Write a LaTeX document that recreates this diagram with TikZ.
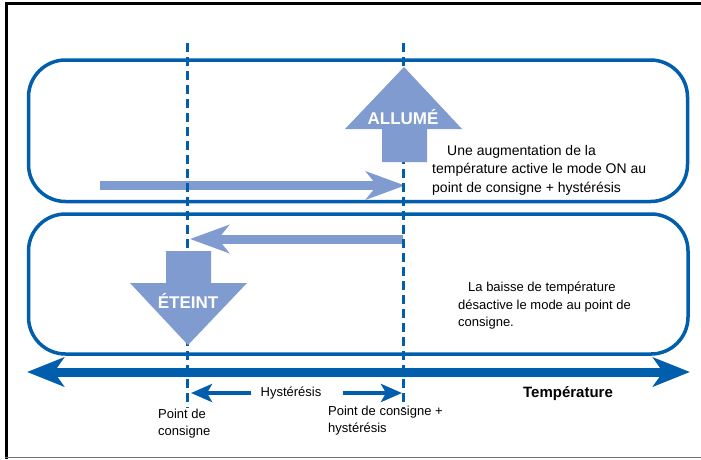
\documentclass[tikz,border=0pt]{standalone}
\usepackage{fontspec}
\setmainfont{Liberation Sans}
\usetikzlibrary{arrows.meta}
\definecolor{lineblue}{RGB}{0,94,172}
\definecolor{softblue}{RGB}{128,155,208}
\tikzset{
  modebox/.style={draw=lineblue, line width=3.5pt, rounded corners=37pt, inner sep=0pt},
  limit/.style={draw=lineblue, line width=3.3pt, dash pattern=on 9pt off 5pt},
  axis/.style={draw=lineblue, line width=9pt,
    {Stealth[length=37pt,width=29pt,inset=10pt]}-{Stealth[length=37pt,width=29pt,inset=10pt]}},
  span/.style={draw=lineblue, line width=4pt, -{Stealth[length=21pt,width=18pt,inset=5pt]}},
  sweep/.style={draw=softblue, line width=9pt, -{Stealth[length=39pt,width=28pt,inset=11pt]}},
  bigarrow/.style={fill=softblue, draw=none},
  statelabel/.style={text=white, font=\fontsize{17}{20}\selectfont\bfseries, inner sep=0pt},
  note/.style={font=\fontsize{14}{18.5}\selectfont, align=left, inner sep=0pt, anchor=west},
  lownote/.style={font=\fontsize{13}{17.5}\selectfont, align=left, inner sep=0pt, anchor=west},
  tick/.style={font=\fontsize{13}{16.5}\selectfont, align=left, inner sep=0pt}
}
\begin{document}
\begin{tikzpicture}[x=1pt,y=-1pt]
\useasboundingbox (0,0) rectangle (701,459);
% page frame
\draw[black, line width=3pt] (6,459) -- (6,3.5) -- (701,3.5);
\draw[black!55, line width=1pt] (5,457.5) -- (701,457.5);

% mode boxes
\node[modebox, minimum width=659pt, minimum height=141.5pt] (onbox) at (358,130.75) {};
\node[modebox, minimum width=659.5pt, minimum height=140pt] (offbox) at (358.25,284) {};

% temperature axis
\coordinate (axL) at (27,372);
\coordinate (axR) at (690,372);
\draw[axis] (axL) -- (axR);

% transitions along the temperature
\coordinate (upStart) at (100,185.5);
\coordinate (upEnd) at (405,185.5);
\coordinate (downStart) at (403,239);
\coordinate (downEnd) at (190,239);
\draw[sweep] (upStart) -- (upEnd);
\draw[sweep] (downStart) -- (downEnd);

% set point and set point + hysteresis
\coordinate (spTop) at (187.5,43);
\coordinate (spBot) at (187.5,408);
\coordinate (shTop) at (403.5,43);
\coordinate (shBot) at (403.5,408);
\draw[limit] (spTop) -- (spBot);
\draw[limit] (shTop) -- (shBot);

% ON arrow
\draw[bigarrow] (404,67) -- (462,129) -- (427,129) -- (427,162) -- (382,162) -- (382,129) -- (345,129) -- cycle;
\node[statelabel] (on) at (403,117) {ALLUMÉ};
% OFF arrow
\draw[bigarrow] (166,251) -- (211,251) -- (211,283) -- (247,283) -- (188,345) -- (130,283) -- (166,283) -- cycle;
\node[statelabel] (off) at (188,301) {ÉTEINT};

% explanations
\node[note] (onnote) at (432,170) {\hspace*{15pt}Une augmentation de la\\température active le mode ON au\\point de consigne + hystérésis};
\node[lownote] (offnote) at (458,306) {\hspace*{10pt}La baisse de température\\désactive le mode au point de\\consigne.};

% hysteresis span
\node[tick] (hyst) at (291,393) {Hystérésis};
\coordinate (hystL) at (191,393);
\coordinate (hystR) at (402,393);
\draw[span] (hyst.west) ++(-9,0) -- (hystL);
\draw[span] (hyst.east) ++(21,0) -- (hystR);

% axis labels
\node[tick, anchor=north west] (splabel) at (158,409) {Point de\\consigne};
\node[tick, anchor=north west] (shlabel) at (328,406) {Point de consigne +\\hystérésis};
\node[font=\fontsize{15}{18}\selectfont\bfseries, inner sep=0pt] (temp) at (568,394) {Température};
\end{tikzpicture}
\end{document}
